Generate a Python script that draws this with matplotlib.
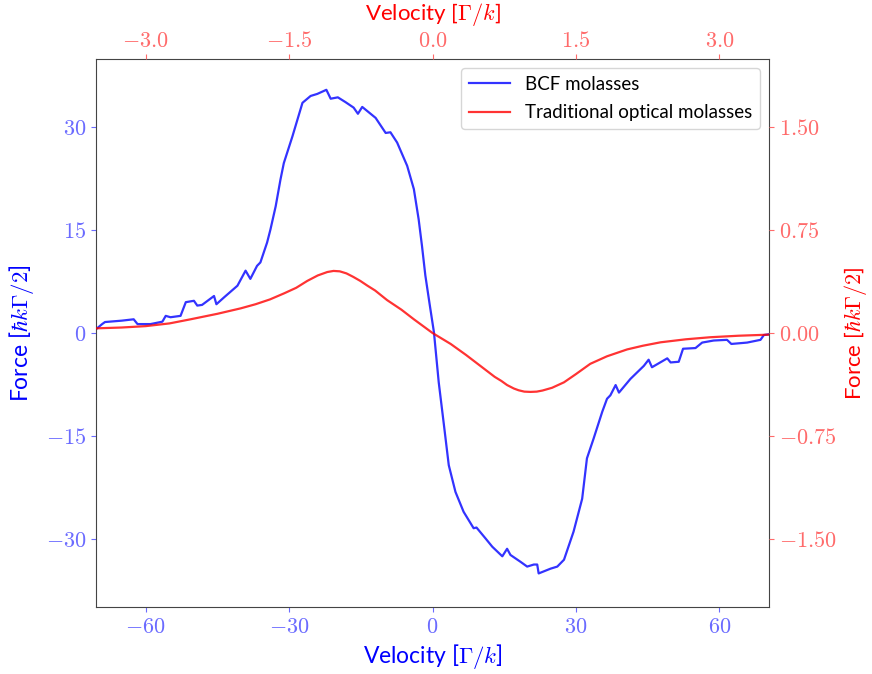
import matplotlib
matplotlib.use("Agg")
import matplotlib.pyplot as plt
from matplotlib.ticker import FuncFormatter, FixedLocator

plt.rcParams['mathtext.fontset'] = 'cm'
plt.rcParams['font.family'] = ['Lato', 'DejaVu Sans']

# BCF molasses (bottom x in Gamma/k, left y in hbar k Gamma/2)
bcf_v = [-70.3, -69.1, -68.5, -65.0, -62.5, -61.7, -59.0, -56.5, -55.8, -54.8,
         -52.7, -51.6, -49.9, -49.2, -48.2, -45.7, -45.2, -43.6, -40.8, -39.1,
         -38.1, -36.7, -36.0, -34.6, -33.9, -32.8, -31.8, -31.1, -29.3, -27.2,
         -25.5, -24.1, -22.2, -21.3, -19.8, -18.2, -16.5, -15.6, -14.7, -11.9,
         -9.8, -8.8, -7.4, -5.3, -3.9, -2.9, -2.2, -1.5, -0.6, 0.3,
         1.3, 2.4, 3.4, 4.8, 6.5, 8.6, 9.2, 11.1, 12.5, 14.6,
         15.6, 16.3, 18.4, 19.8, 21.2, 21.9, 22.2, 24.7, 26.1, 27.5,
         29.5, 31.3, 32.3, 33.7, 35.5, 36.5, 37.2, 38.3, 39.0, 41.4,
         44.2, 45.2, 45.9, 49.1, 49.8, 51.5, 52.4, 55.0, 56.4, 58.8,
         61.6, 62.5, 65.8, 68.6, 69.3, 70.7]
bcf_f = [0.6, 1.3, 1.6, 1.8, 2.0, 1.3, 1.3, 1.65, 2.5, 2.3,
         2.5, 4.5, 4.7, 4.0, 4.1, 5.4, 4.2, 5.2, 6.9, 9.1,
         7.9, 9.8, 10.3, 13.2, 15.1, 18.5, 22.4, 24.8, 28.7, 33.6,
         34.6, 34.9, 35.5, 34.2, 34.4, 33.7, 32.9, 32.0, 33.0, 31.4,
         29.2, 29.3, 27.8, 24.4, 21.0, 16.6, 12.7, 8.4, 4.2, 0.1,
         -7.2, -13.5, -19.3, -23.2, -26.1, -28.5, -28.4, -30.0, -31.2, -32.6,
         -31.5, -32.4, -33.4, -34.1, -33.8, -33.8, -35.1, -34.4, -34.1, -33.1,
         -29.0, -24.2, -18.3, -15.4, -11.5, -9.6, -9.1, -7.6, -8.7, -6.7,
         -4.8, -3.9, -5.0, -3.7, -4.3, -4.2, -2.3, -2.2, -1.4, -1.1,
         -1.0, -1.6, -1.4, -1.0, -0.3, -0.15]

# Traditional optical molasses (top x in Gamma/k, right y in hbar k Gamma/2)
trad_v = [-3.515, -3.25, -3.0, -2.75, -2.53, -2.25, -2.005, -1.85, -1.7, -1.55,
          -1.425, -1.31, -1.2, -1.1, -1.035, -0.97, -0.9, -0.83, -0.755, -0.68,
          -0.6, -0.475, -0.325, -0.195, 0.0, 0.19, 0.35, 0.5, 0.65, 0.72,
          0.78, 0.85, 0.9, 0.96, 1.025, 1.09, 1.15, 1.25, 1.375, 1.5,
          1.65, 1.825, 2.035, 2.2, 2.385, 2.65, 2.905, 3.2, 3.525]
trad_f = [0.034, 0.04, 0.05, 0.07, 0.10, 0.14, 0.18, 0.21, 0.245, 0.29,
          0.33, 0.38, 0.42, 0.445, 0.453, 0.45, 0.435, 0.41, 0.38, 0.345,
          0.31, 0.24, 0.17, 0.10, 0.0, -0.08, -0.16, -0.24, -0.32, -0.35,
          -0.38, -0.405, -0.418, -0.428, -0.43, -0.428, -0.42, -0.40, -0.36, -0.30,
          -0.225, -0.17, -0.12, -0.093, -0.068, -0.046, -0.031, -0.02, -0.012]

blue_tick = '#6b6bff'
red_tick = '#ff6b6b'

fig = plt.figure(figsize=(8.72, 6.74), dpi=100)
ax = fig.add_axes([0.110, 0.0994, 0.772, 0.8131])
ax2 = fig.add_axes(ax.get_position(), frameon=False)

l1, = ax.plot(bcf_v, bcf_f, color='b', alpha=0.8, lw=1.6, label='BCF molasses')
l2, = ax2.plot(trad_v, trad_f, color='r', alpha=0.8, lw=1.6, label='Traditional optical molasses')

ax.set_xlim(-70.4, 70.4)
ax.set_ylim(-40, 40)
ax2.set_xlim(-3.52, 3.52)
ax2.set_ylim(-2, 2)

ax.xaxis.set_major_locator(FixedLocator([-60, -30, 0, 30, 60]))
ax.yaxis.set_major_locator(FixedLocator([-30, -15, 0, 15, 30]))
ax2.xaxis.set_major_locator(FixedLocator([-3.0, -1.5, 0.0, 1.5, 3.0]))
ax2.yaxis.set_major_locator(FixedLocator([-1.5, -0.75, 0.0, 0.75, 1.5]))

ax.xaxis.set_major_formatter(FuncFormatter(lambda v, p: r'$%d$' % round(v)))
ax.yaxis.set_major_formatter(FuncFormatter(lambda v, p: r'$%d$' % round(v)))
ax2.xaxis.set_major_formatter(FuncFormatter(lambda v, p: r'$%.1f$' % v))
ax2.yaxis.set_major_formatter(FuncFormatter(lambda v, p: r'$%.2f$' % v))

ax2.xaxis.tick_top()
ax2.yaxis.tick_right()
ax2.xaxis.set_label_position('top')
ax2.yaxis.set_label_position('right')

ax.tick_params(axis='both', colors=blue_tick, labelsize=16)
ax2.tick_params(axis='both', colors=red_tick, labelsize=16)
ax2.tick_params(axis='x', pad=2)

for s in ax.spines.values():
    s.set_color('#444444')

ax.set_xlabel(r'Velocity [$\Gamma/k$]', color='b', fontsize=16.5, labelpad=4)
ax.set_ylabel(r'Force [$\hbar k\Gamma/2$]', color='b', fontsize=16.5, labelpad=7)
ax2.set_xlabel(r'Velocity [$\Gamma/k$]', color='r', fontsize=16)
ax2.xaxis.set_label_coords(0.5, 1.071)
ax2.set_ylabel(r'Force [$\hbar k\Gamma/2$]', color='r', fontsize=16, labelpad=4)

ax2.legend([l1, l2], [l1.get_label(), l2.get_label()], loc='upper right',
           fontsize=13.5, handlelength=2.2, labelspacing=0.6)

fig.savefig('out.png', dpi=100)
